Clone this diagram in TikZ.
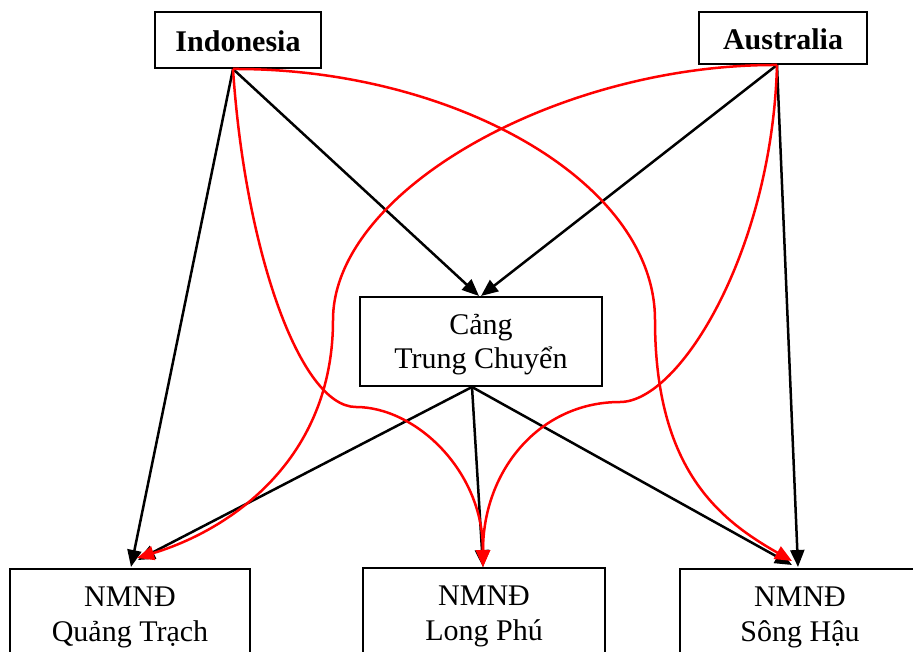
\documentclass[tikz,border=0pt]{standalone}
\usepackage{fontspec}
\setmainfont{Liberation Serif}
\usetikzlibrary{arrows.meta}
\begin{document}
\begin{tikzpicture}[x=1pt,y=-1pt,
  box/.style={draw=black,line width=2pt,inner sep=0pt,align=center,font=\fontsize{30}{34.5}\selectfont},
  topbox/.style={box,font=\fontsize{30}{34}\selectfont\bfseries},
  tip/.style={-{Triangle[length=17pt,width=14pt]}},
  blk/.style={draw=black,line width=2.5pt,tip},
  rd/.style={draw=red,line width=2.5pt,tip,fill=none},
]
\clip (0,0) rectangle (913,652);
\fill[white] (0,0) rectangle (913,652);
% nodes
\node[topbox,minimum width=166pt,minimum height=56pt] (indo) at (238,40) {\rule{0pt}{24pt}Indonesia};
\node[topbox,minimum width=168pt,minimum height=52pt] (aus) at (783,38) {\rule{0pt}{24pt}Australia};
\node[box,minimum width=242pt,minimum height=89pt] (cang) at (481,341.5) {\rule{0pt}{26pt}Cảng\\Trung Chuyển};
\node[box,anchor=north,minimum width=240pt,minimum height=97pt] (qt) at (130,568) {NMNĐ\\Quảng Trạch};
\node[box,anchor=north,minimum width=242pt,minimum height=97pt] (lp) at (484,567) {NMNĐ\\Long Phú};
\node[box,anchor=north,minimum width=240pt,minimum height=97pt] (sh) at (800,568) {NMNĐ\\Sông Hậu};
% black connectors
\draw[blk] ([xshift=-5pt]indo.south) -- ([xshift=1pt,yshift=1pt]qt.north);
\draw[blk] ([xshift=-5pt]indo.south) -- ([xshift=-2pt]cang.north);
\draw[blk] ([xshift=-6pt]aus.south) -- ([xshift=0pt]cang.north);
\draw[blk] ([xshift=-6pt]aus.south) -- ([xshift=-2pt,yshift=1pt]sh.north);
\draw[blk] ([xshift=-9pt]cang.south) -- ([xshift=8pt,yshift=8pt]qt.north);
\draw[blk] ([xshift=-9pt]cang.south) -- ([xshift=-1pt]lp.north);
\draw[blk] ([xshift=-9pt]cang.south) -- ([xshift=-8pt,yshift=3pt]sh.north);
% red connectors
\draw[rd] ([xshift=-5pt]indo.south) .. controls (245,250) and (300,407) .. (356,407)
   .. controls (415,407) and (483,470) .. ([xshift=-1pt]lp.north);
\draw[rd] ([xshift=-5pt]indo.south) .. controls (450,68) and (655,180) .. (655,320)
   .. controls (655,470) and (720,520) .. ([xshift=-8pt,yshift=7pt]sh.north);
\draw[rd] ([xshift=-6pt]aus.south) .. controls (560,64) and (333,190) .. (333,320)
   .. controls (333,460) and (230,530) .. ([xshift=7pt,yshift=10pt]qt.north);
\draw[rd] ([xshift=-6pt]aus.south) .. controls (772,250) and (680,402) .. (620,402)
   .. controls (540,402) and (483,470) .. ([xshift=-1pt]lp.north);
\end{tikzpicture}
\end{document}
